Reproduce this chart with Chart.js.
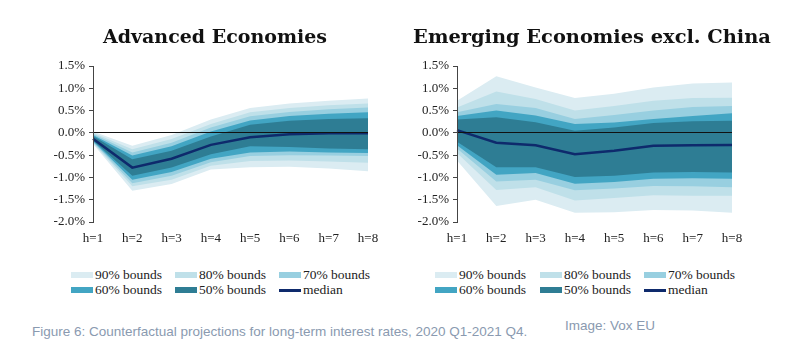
<!DOCTYPE html>
<html><head><meta charset="utf-8">
<script src="https://cdn.jsdelivr.net/npm/chart.js@4.4.1/dist/chart.umd.min.js"></script>
<style>
html,body{margin:0;padding:0;background:#fff;width:801px;height:362px;overflow:hidden;position:relative;font-family:"Liberation Serif",serif;}
.wrap{position:absolute;top:0;height:260px;}
.title{position:absolute;top:25px;font-family:"DejaVu Serif",serif;font-weight:bold;font-size:19px;color:#111;white-space:nowrap;transform:translateX(-50%);}
.title.r{font-size:19.4px;}
.leg{position:absolute;font-family:"Liberation Serif","Times New Roman",serif;font-size:13.5px;color:#222;white-space:nowrap;line-height:14px;}
.leg span.sw{position:absolute;left:0;top:4px;width:22px;height:6px;}
.leg span.tx{position:absolute;left:24px;top:0;}
.cap{position:absolute;font-family:"Liberation Sans",Arial,sans-serif;font-size:13.5px;color:#8a9ab0;white-space:nowrap;}
</style></head><body>
<div class="wrap" style="left:0;width:400px"><canvas id="c1" width="400" height="260"></canvas></div>
<div class="wrap" style="left:400px;width:401px"><canvas id="c2" width="401" height="260"></canvas></div>
<div class="title" style="left:215px">Advanced Economies</div>
<div class="title r" style="left:592px">Emerging Economies excl. China</div>
<div id="legends"></div>
<div class="cap" style="left:32px;top:324px">Figure 6: Counterfactual projections for long-term interest rates, 2020 Q1-2021 Q4.</div>
<div class="cap" style="left:565px;top:318px">Image: Vox EU</div>
<script>
// ---- data ----
const categories = ['h=1','h=2','h=3','h=4','h=5','h=6','h=7','h=8'];
const yTicks = [-2.0,-1.5,-1.0,-0.5,0.0,0.5,1.0,1.5];
const bandLabels = ['90% bounds','80% bounds','70% bounds','60% bounds','50% bounds'];
const medianLabel = 'median';

// Advanced Economies
const aeMedian = [-0.13,-0.78,-0.58,-0.27,-0.10,-0.03,-0.01,-0.01];
const ae90hi = [0.03,-0.29,-0.05,0.30,0.56,0.66,0.72,0.77];
const ae90lo = [-0.25,-1.30,-1.15,-0.82,-0.77,-0.76,-0.80,-0.86];
const ae80hi = [0.00,-0.37,-0.14,0.20,0.46,0.56,0.62,0.66];
const ae80lo = [-0.23,-1.20,-1.05,-0.74,-0.63,-0.62,-0.64,-0.67];
const ae70hi = [-0.02,-0.44,-0.22,0.12,0.37,0.47,0.53,0.57];
const ae70lo = [-0.21,-1.13,-0.96,-0.66,-0.52,-0.50,-0.51,-0.52];
const ae60hi = [-0.05,-0.51,-0.30,0.03,0.28,0.38,0.43,0.46];
const ae60lo = [-0.19,-1.05,-0.88,-0.58,-0.44,-0.42,-0.44,-0.45];
const ae50hi = [-0.07,-0.59,-0.40,-0.08,0.18,0.27,0.31,0.33];
const ae50lo = [-0.17,-0.96,-0.78,-0.48,-0.30,-0.32,-0.35,-0.37];

// Emerging Economies excl. China
const emMedian = [0.06,-0.22,-0.28,-0.48,-0.40,-0.29,-0.28,-0.27];
const em90hi = [0.72,1.27,1.02,0.78,0.88,1.02,1.11,1.13];
const em90lo = [-0.62,-1.64,-1.50,-1.79,-1.78,-1.73,-1.74,-1.79];
const em80hi = [0.57,0.93,0.76,0.50,0.60,0.72,0.78,0.79];
const em80lo = [-0.45,-1.28,-1.22,-1.52,-1.46,-1.40,-1.41,-1.41];
const em70hi = [0.46,0.65,0.56,0.31,0.40,0.50,0.58,0.60];
const em70lo = [-0.35,-1.09,-1.05,-1.29,-1.25,-1.19,-1.20,-1.22];
const em60hi = [0.38,0.50,0.39,0.20,0.23,0.31,0.38,0.44];
const em60lo = [-0.28,-0.94,-0.90,-1.14,-1.10,-1.03,-1.02,-1.03];
const em50hi = [0.30,0.35,0.24,0.05,0.12,0.22,0.26,0.27];
const em50lo = [-0.20,-0.77,-0.77,-0.99,-0.96,-0.89,-0.88,-0.89];

// ---- styles ----
const bandColors = ['#dbecf2','#bfe0e9','#98cfe0','#42a5c3','#2e7d94'];
const medianColor = '#0e2a6c';

function buildDatasets(bands, median){
  const ds = [];
  bands.forEach((b, i) => {
    ds.push({label: bandLabels[i]+' hi', data: b[0], borderWidth: 0, pointRadius: 0, fill: false, order: 20 - i*2, tension: 0});
    ds.push({label: bandLabels[i], data: b[1], borderWidth: 0, pointRadius: 0, fill: '-1', backgroundColor: bandColors[i], order: 20 - i*2, tension: 0});
  });
  ds.push({label: medianLabel, data: median, borderColor: medianColor, borderWidth: 2.5, pointRadius: 0, fill: false, order: 0, tension: 0});
  return ds;
}

function makeChart(id, yWidth, padRight, bands, median){
  new Chart(document.getElementById(id), {
    type: 'line',
    data: {labels: categories, datasets: buildDatasets(bands, median)},
    options: {
      responsive: false, animation: false, events: [],
      layout: {padding: {left: 0, right: padRight, top: 66, bottom: 0}},
      plugins: {legend: {display: false}, tooltip: {enabled: false}, title: {display: false}},
      scales: {
        x: {
          offset: false,
          grid: {display: false, drawTicks: false},
          border: {display: false},
          ticks: {padding: 9, color: '#222', font: {family: 'Liberation Serif', size: 13}, maxRotation: 0, autoSkip: false},
          afterFit: s => { s.height = 38; }
        },
        y: {
          min: -2, max: 1.5,
          afterBuildTicks: a => { a.ticks = yTicks.map(v => ({value: v})); },
          grid: {
            z: 1,
            drawOnChartArea: true, drawTicks: true, tickLength: 4,
            color: c => (c.tick && c.tick.value === 0) ? '#111' : 'rgba(0,0,0,0)',
            tickColor: '#444', lineWidth: 1
          },
          border: {display: true, color: '#444', width: 1, z: 1},
          ticks: {padding: 4, color: '#222', font: {family: 'Liberation Serif', size: 13},
            callback: v => Number(v).toFixed(1) + '%'},
          afterFit: s => { s.width = yWidth; }
        }
      }
    }
  });
}

makeChart('c1', 93, 32,
  [[ae90hi, ae90lo],[ae80hi, ae80lo],[ae70hi, ae70lo],[ae60hi, ae60lo],[ae50hi, ae50lo]], aeMedian);
makeChart('c2', 57, 69,
  [[em90hi, em90lo],[em80hi, em80lo],[em70hi, em70lo],[em60hi, em60lo],[em50hi, em50lo]], emMedian);

// ---- legends (HTML) ----
const legItems = bandLabels.map((l, i) => ({text: l, color: bandColors[i], line: false}))
  .concat([{text: medianLabel, color: medianColor, line: true}]);
function addLegend(cols, rows){
  const host = document.getElementById('legends');
  legItems.forEach((it, k) => {
    const d = document.createElement('div');
    d.className = 'leg';
    d.style.left = cols[k % 3] + 'px';
    d.style.top = rows[Math.floor(k / 3)] + 'px';
    const sw = document.createElement('span');
    sw.className = 'sw';
    sw.style.background = it.color;
    if (it.line) { sw.style.height = '3px'; sw.style.top = '6px'; }
    const tx = document.createElement('span');
    tx.className = 'tx';
    tx.textContent = it.text;
    d.appendChild(sw); d.appendChild(tx);
    host.appendChild(d);
  });
}
addLegend([71, 175, 279], [268, 283]);
addLegend([435, 540, 644], [268, 283]);
</script>
</body></html>
